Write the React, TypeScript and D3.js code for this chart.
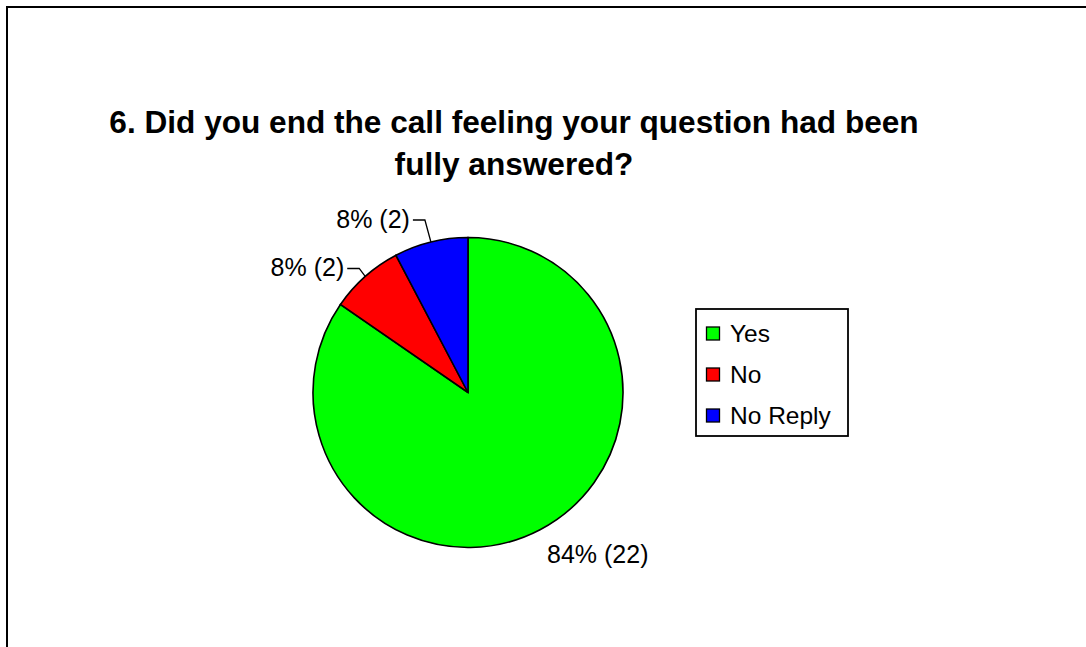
import React from "react";
import * as d3 from "d3";

const categories = ["Yes", "No", "No Reply"];
const counts = [22, 2, 2];
const percentLabels = [84, 8, 8];
const sliceColors = ["#00FF00", "#FF0000", "#0000FF"];
const titleLines = [
  "6. Did you end the call feeling your question had been",
  "fully answered?",
];

const W = 1086;
const H = 647;
const FONT = "'Liberation Sans', Arial, Helvetica, sans-serif";

// layout
const cx = 468;
const cy = 392.5;
const R = 155;
// label placement per slice: leader (elbow offset from edge point) or direct offset
const labelLayout = [
  { leader: false, dx: 7, dy: 33 },
  { leader: true, dx: -6, dy: -8 },
  { leader: true, dx: -6, dy: -22 },
];

export default function App() {
  const data = categories.map((c, i) => ({ cat: c, value: counts[i], pct: percentLabels[i], color: sliceColors[i] }));
  const pie = d3
    .pie<any>()
    .sort(null)
    .value((d) => d.value)
    .startAngle(0)
    .endAngle(2 * Math.PI);
  const arcs = pie(data);
  const arc = d3.arc<any>().innerRadius(0).outerRadius(R);

  const legendRow = d3.scaleLinear().domain([0, 1]).range([342, 383]);

  return (
    <svg
      width={W}
      height={H}
      style={{ position: "absolute", left: 0, top: 0, background: "#fff" }}
      fontFamily={FONT}
    >
      <rect x={0} y={0} width={W} height={H} fill="#fff" />
      <rect x={7} y={7} width={W + 20} height={H + 20} fill="none" stroke="#000" strokeWidth={2} />

      {titleLines.map((t, i) => (
        <text
          key={i}
          x={514}
          y={133 + i * 42}
          textAnchor="middle"
          fontWeight="bold"
          fontSize={31.6}
          fill="#000"
        >
          {t}
        </text>
      ))}

      <g transform={`translate(${cx},${cy})`}>
        {arcs.map((a, i) => (
          <path key={i} d={arc(a) as string} fill={a.data.color} stroke="#000" strokeWidth={1.6} />
        ))}
        {arcs.map((a, i) => {
          const mid = (a.startAngle + a.endAngle) / 2;
          const ex = R * Math.sin(mid);
          const ey = -R * Math.cos(mid);
          const lay = labelLayout[i];
          const label = `${a.data.pct}% (${a.data.value})`;
          if (!lay.leader) {
            return (
              <text key={i} x={ex + lay.dx} y={ey + lay.dy} fontSize={25} fill="#000">
                {label}
              </text>
            );
          }
          const elx = ex + lay.dx;
          const ely = ey + lay.dy;
          const hx = elx - 12;
          return (
            <g key={i}>
              <polyline
                points={`${ex},${ey} ${elx},${ely} ${hx},${ely}`}
                fill="none"
                stroke="#000"
                strokeWidth={1.3}
              />
              <text x={hx - 3} y={ely + 8} textAnchor="end" fontSize={25} fill="#000">
                {label}
              </text>
            </g>
          );
        })}
      </g>

      <g>
        <rect x={696} y={309} width={152} height={127} fill="#fff" stroke="#000" strokeWidth={1.8} />
        {data.map((d, i) => {
          const base = legendRow(i);
          return (
            <g key={i}>
              <rect x={706.5} y={base - 15} width={13} height={13} fill={d.color} stroke="#000" strokeWidth={1.3} />
              <text x={730} y={base} fontSize={24.5} fill="#000">
                {d.cat}
              </text>
            </g>
          );
        })}
      </g>
    </svg>
  );
}
